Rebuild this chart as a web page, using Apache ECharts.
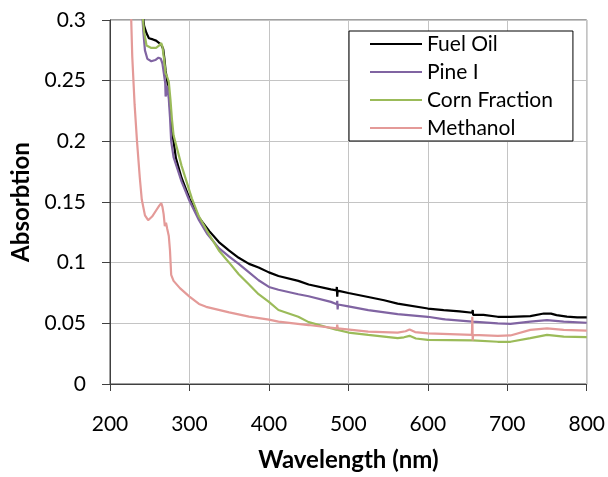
<!DOCTYPE html>
<html>
<head>
<meta charset="utf-8">
<script src="https://cdn.jsdelivr.net/npm/echarts@6/dist/echarts.min.js"></script>
<style>
  html, body { margin: 0; padding: 0; background: #fff; }
  #chart { width: 608px; height: 477px; }
</style>
</head>
<body>
<div id="chart"></div>
<script>
let seriesNames = ['Fuel Oil', 'Pine I', 'Corn Fraction', 'Methanol'];
let seriesColors = ['#000000', '#8064A2', '#9BBB59', '#E49A98'];

// [wavelength nm, absorbtion]
let fuelOil = [
  [236, 0.34], [240, 0.31], [243, 0.295], [246, 0.289], [249, 0.285], [254, 0.284], [258, 0.283],
  [262, 0.281], [265, 0.279], [267, 0.276], [268.5, 0.268], [270, 0.258], [272, 0.25], [274, 0.24],
  [276, 0.225], [278, 0.208], [280, 0.2], [283, 0.186], [290, 0.17], [300, 0.153], [312, 0.137],
  [325, 0.126], [337, 0.117], [350, 0.11], [362, 0.104], [375, 0.099], [387, 0.096], [400, 0.092],
  [412, 0.089], [437, 0.085], [450, 0.082], [478, 0.078], [485, 0.0772], [485.5, 0.080], [486, 0.072],
  [486.5, 0.077], [500, 0.075], [525, 0.0717], [545, 0.069], [562, 0.0663], [600, 0.0622], [620, 0.0609],
  [621, 0.062], [622, 0.0605], [640, 0.0598], [656, 0.0587], [656.5, 0.061], [657, 0.057], [657.5, 0.0585],
  [670, 0.057], [688, 0.0554], [704, 0.0554], [729, 0.056], [746, 0.0581], [755, 0.058], [762, 0.0568],
  [775, 0.0555], [788, 0.0549], [800, 0.0549]
];

let pineI = [
  [236, 0.34], [240, 0.31], [242, 0.29], [244, 0.275], [247, 0.268], [252, 0.266], [257, 0.267],
  [261, 0.269], [264, 0.268], [266, 0.264], [268, 0.255], [269.5, 0.248], [270, 0.237], [271, 0.24],
  [272, 0.246], [274, 0.235], [275.5, 0.22], [277, 0.2], [280, 0.187], [285, 0.177], [290, 0.167],
  [300, 0.151], [312, 0.135], [322, 0.124], [337, 0.112], [350, 0.105], [362, 0.099], [375, 0.092],
  [387, 0.0855], [400, 0.08], [412, 0.0777], [437, 0.074], [450, 0.0723], [478, 0.0677], [485.5, 0.0658],
  [486, 0.0685], [486.5, 0.0614], [487, 0.0655], [500, 0.064], [525, 0.0609], [562, 0.0576], [600, 0.0554],
  [619, 0.0535], [620.5, 0.0522], [622, 0.0532], [656, 0.0514], [688, 0.050], [704, 0.0495], [729, 0.0514],
  [750, 0.0527], [771, 0.0514], [800, 0.0505]
];

let cornFraction = [
  [236, 0.34], [240, 0.31], [243, 0.29], [246, 0.279], [252, 0.277], [258, 0.277], [262, 0.279],
  [264.5, 0.281], [266, 0.278], [268, 0.268], [270, 0.256], [272, 0.253], [274, 0.249], [276, 0.235],
  [278, 0.218], [280, 0.205], [282, 0.2], [290, 0.18], [303, 0.153], [312, 0.138], [325, 0.123],
  [337, 0.11], [350, 0.1], [362, 0.0905], [375, 0.082], [387, 0.074], [400, 0.0677], [412, 0.061],
  [437, 0.0554], [450, 0.051], [479, 0.0457], [485.5, 0.0446], [486, 0.047], [486.5, 0.0446], [500, 0.0424],
  [525, 0.0405], [562, 0.0378], [570, 0.0385], [577, 0.0397], [585, 0.0375], [600, 0.0364], [656, 0.0359],
  [688, 0.0348], [704, 0.0348], [729, 0.0378], [750, 0.0405], [771, 0.0391], [800, 0.0386]
];

let methanol = [
  [225, 0.34], [228, 0.27], [231, 0.23], [234, 0.2], [237.5, 0.17], [240, 0.152], [244, 0.139],
  [248, 0.135], [253, 0.138], [258, 0.143], [262, 0.147], [264.5, 0.149], [266, 0.146], [267.5, 0.14],
  [269, 0.13], [270.5, 0.133], [272, 0.128], [274, 0.122], [275.5, 0.11], [277, 0.09], [280, 0.085],
  [288, 0.079], [300, 0.072], [312, 0.066], [321, 0.0636], [350, 0.059], [375, 0.0555], [400, 0.053],
  [412, 0.0514], [450, 0.0486], [485.5, 0.0459], [486, 0.049], [486.5, 0.0459], [525, 0.0432], [562, 0.0424],
  [572, 0.0435], [577, 0.045], [584, 0.0428], [600, 0.0418], [655.5, 0.0405], [656, 0.0554], [656.5, 0.0359],
  [657, 0.0405], [688, 0.0397], [704, 0.040], [729, 0.0446], [750, 0.0459], [771, 0.0446], [800, 0.044]
];

let xTicks = { min: 200, max: 800, step: 100 };
let yTicks = { min: 0, max: 0.3, step: 0.05 };

let allData = [fuelOil, pineI, cornFraction, methanol];

let chartDom = document.getElementById('chart');
let myChart = echarts.init(chartDom, null, { renderer: 'canvas' });

let fuente = 'Lato, "Liberation Sans", sans-serif';

let series = seriesNames.map((nombre, i) => ({
  name: nombre,
  type: 'line',
  data: allData[i],
  symbol: 'none',
  color: seriesColors[i],
  lineStyle: { color: seriesColors[i], width: 2.2 },
  clip: true,
  z: 2
}));

let option = {
  animation: false,
  backgroundColor: '#ffffff',
  grid: {
    left: 110, right: 18, top: 20, bottom: 89,
    show: true, borderColor: '#404040', borderWidth: 1
  },
  legend: {
    orient: 'vertical',
    left: 349, top: 31,
    padding: [1, 20, 1, 21],
    backgroundColor: '#ffffff',
    borderColor: '#000000',
    borderWidth: 1,
    borderRadius: 0,
    icon: 'rect',
    itemWidth: 52,
    itemHeight: 2,
    itemGap: 4,
    textStyle: { fontFamily: fuente, fontSize: 21, color: '#000', lineHeight: 24 },
    data: seriesNames
  },
  xAxis: {
    type: 'value',
    min: xTicks.min, max: xTicks.max, interval: xTicks.step,
    name: 'Wavelength (nm)',
    nameLocation: 'middle',
    nameGap: 64,
    nameTextStyle: { fontFamily: fuente, fontSize: 24, fontWeight: 'bold', color: '#000' },
    axisLine: { onZero: false, lineStyle: { color: '#404040', width: 1 } },
    axisTick: { length: 7, lineStyle: { color: '#404040' } },
    axisLabel: { margin: 30, fontFamily: fuente, fontSize: 21, color: '#000' },
    splitLine: { show: true, lineStyle: { color: '#c4c4c4', width: 1 } }
  },
  yAxis: {
    type: 'value',
    min: yTicks.min, max: yTicks.max, interval: yTicks.step,
    name: 'Absorbtion',
    nameLocation: 'middle',
    nameGap: 76,
    nameTextStyle: { fontFamily: fuente, fontSize: 24, fontWeight: 'bold', color: '#000' },
    axisLine: { show: true, lineStyle: { color: '#404040', width: 1 } },
    axisTick: { show: true, length: 8, lineStyle: { color: '#404040' } },
    axisLabel: { margin: 24, fontFamily: fuente, fontSize: 21, color: '#000' },
    splitLine: { show: true, lineStyle: { color: '#c4c4c4', width: 1 } }
  },
  series: series
};

myChart.setOption(option);
</script>
</body>
</html>
